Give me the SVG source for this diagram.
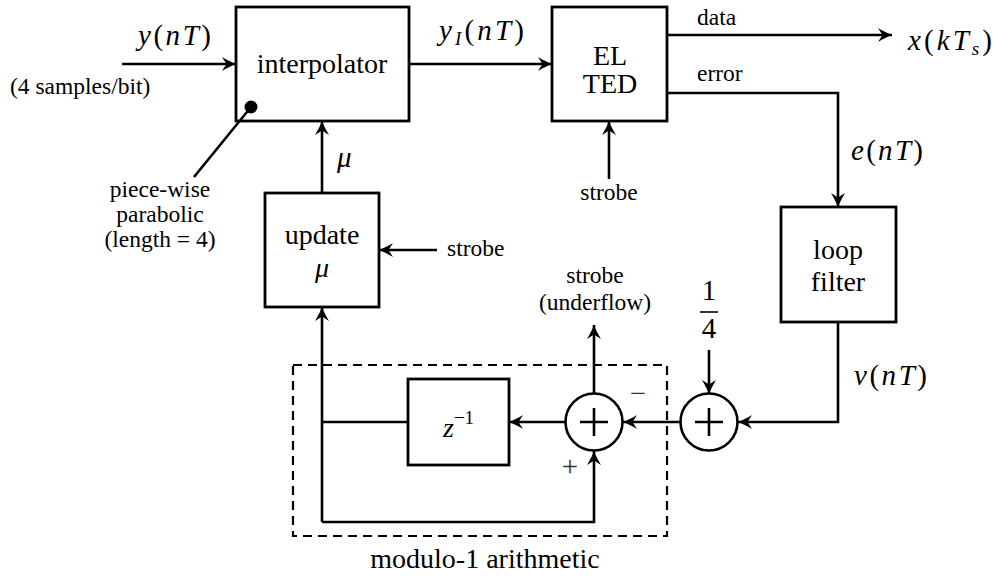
<svg xmlns="http://www.w3.org/2000/svg" width="993" height="580" viewBox="0 0 993 580">
<defs>
<marker id="arr" viewBox="-16 -8 18 16" refX="0" refY="0" markerWidth="18" markerHeight="16" markerUnits="userSpaceOnUse" orient="auto">
<path d="M0,0 C-4,-1.5 -9,-4 -14,-7 L-9.5,0 L-14,7 C-9,4 -4,1.5 0,0 Z" fill="#000"/>
</marker>
</defs>

<g id="modulo-region">
<rect x="293" y="365" width="374" height="171" fill="none" stroke="#000" stroke-width="2.2" stroke-dasharray="9 6"/>
<text x="485" y="568" font-size="28" text-anchor="middle" font-family="Liberation Serif">modulo-1 arithmetic</text>
</g>

<g id="interpolator">
<rect x="236" y="7" width="173" height="114" fill="#fff" stroke="#000" stroke-width="2.8"/>
<text x="322" y="73" font-size="28" text-anchor="middle" font-family="Liberation Serif">interpolator</text>
</g>

<g id="el-ted">
<rect x="552" y="7" width="115" height="114" fill="#fff" stroke="#000" stroke-width="2.8"/>
<text x="610" y="65" font-size="28" text-anchor="middle" font-family="Liberation Serif">EL</text>
<text x="610" y="93" font-size="28" text-anchor="middle" font-family="Liberation Serif">TED</text>
</g>

<g id="update-mu">
<rect x="265" y="193" width="114" height="114" fill="#fff" stroke="#000" stroke-width="2.8"/>
<text x="322" y="244" font-size="28" text-anchor="middle" font-family="Liberation Serif">update</text>
<text x="322" y="277" font-size="28" text-anchor="middle" font-style="italic" font-family="Liberation Serif">μ</text>
</g>

<g id="loop-filter">
<rect x="781" y="207" width="115" height="115" fill="#fff" stroke="#000" stroke-width="2.8"/>
<text x="838" y="259" font-size="28" text-anchor="middle" font-family="Liberation Serif">loop</text>
<text x="838" y="291" font-size="28" text-anchor="middle" font-family="Liberation Serif">filter</text>
</g>

<g id="delay">
<rect x="408" y="379" width="101" height="86" fill="#fff" stroke="#000" stroke-width="2.8"/>
<text x="443" y="437" font-size="28" font-family="Liberation Serif"><tspan font-style="italic">z</tspan><tspan font-size="19" dy="-13">−1</tspan></text>
</g>

<g id="sum-left">
<circle cx="594" cy="422" r="28.5" fill="#fff" stroke="#000" stroke-width="2.6"/>
<path d="M580,422 H608 M594,408 V436" fill="none" stroke="#000" stroke-width="2.6"/>
</g>

<g id="sum-right">
<circle cx="709" cy="422" r="28.5" fill="#fff" stroke="#000" stroke-width="2.6"/>
<path d="M695,422 H723 M709,408 V436" fill="none" stroke="#000" stroke-width="2.6"/>
</g>

<g id="connectors" fill="none" stroke="#000" stroke-width="2.6">
<path marker-end="url(#arr)" d="M122,64 H236"/>
<path marker-end="url(#arr)" d="M409,64 H552"/>
<path marker-end="url(#arr)" d="M667,35 H892"/>
<path marker-end="url(#arr)" d="M667,93 H838 V207"/>
<path marker-end="url(#arr)" d="M609,179 V121"/>
<path marker-end="url(#arr)" d="M838,322 V422 H738"/>
<path marker-end="url(#arr)" d="M709,350 V394"/>
<path marker-end="url(#arr)" d="M681,422 H623"/>
<path marker-end="url(#arr)" d="M566,422 H509"/>
<path d="M408,422 H322"/>
<path marker-end="url(#arr)" d="M594,394 V325"/>
<path marker-end="url(#arr)" d="M322,522 H594 V451"/>
<path marker-end="url(#arr)" d="M322,522 V307"/>
<path marker-end="url(#arr)" d="M322,193 V121"/>
<path marker-end="url(#arr)" d="M437,250 H379"/>
<path d="M194,177 L251,107"/>
<circle cx="251" cy="107" r="6.5" fill="#000" stroke="none"/>
</g>

<g id="labels">
<text x="138" y="45" font-size="29" textLength="73" lengthAdjust="spacing" font-family="Liberation Serif"><tspan font-style="italic">y</tspan>(<tspan font-style="italic">nT</tspan>)</text>
<text x="10" y="94" font-size="23.5" font-family="Liberation Serif">(4 samples/bit)</text>
<text x="160" y="197" font-size="23.5" text-anchor="middle" font-family="Liberation Serif">piece-wise</text>
<text x="160" y="222" font-size="23.5" text-anchor="middle" font-family="Liberation Serif">parabolic</text>
<text x="160" y="247" font-size="23.5" text-anchor="middle" font-family="Liberation Serif">(length = 4)</text>
<text x="337" y="167" font-size="29" font-style="italic" font-family="Liberation Serif">μ</text>
<text x="439" y="40" font-size="29" textLength="85" lengthAdjust="spacing" font-family="Liberation Serif"><tspan font-style="italic">y</tspan><tspan font-style="italic" font-size="19" dy="5">I</tspan><tspan dy="-5">(</tspan><tspan font-style="italic">nT</tspan>)</text>
<text x="697" y="25" font-size="23.5" font-family="Liberation Serif">data</text>
<text x="697" y="81" font-size="23.5" font-family="Liberation Serif">error</text>
<text x="908" y="50" font-size="29" textLength="84" lengthAdjust="spacing" font-family="Liberation Serif"><tspan font-style="italic">x</tspan>(<tspan font-style="italic">kT</tspan><tspan font-style="italic" font-size="19" dy="5">s</tspan><tspan dy="-5">)</tspan></text>
<text x="851" y="160" font-size="29" textLength="72" lengthAdjust="spacing" font-family="Liberation Serif"><tspan font-style="italic">e</tspan>(<tspan font-style="italic">nT</tspan>)</text>
<text x="609" y="200" font-size="23.5" text-anchor="middle" font-family="Liberation Serif">strobe</text>
<text x="447" y="256" font-size="23.5" font-family="Liberation Serif">strobe</text>
<text x="595" y="283" font-size="23.5" text-anchor="middle" font-family="Liberation Serif">strobe</text>
<text x="595" y="310" font-size="23.5" text-anchor="middle" font-family="Liberation Serif">(underflow)</text>
<text x="709" y="300" font-size="29" text-anchor="middle" font-family="Liberation Serif">1</text>
<path d="M700,312 H718" stroke="#000" stroke-width="1.6"/>
<text x="709" y="338" font-size="29" text-anchor="middle" font-family="Liberation Serif">4</text>
<text x="854" y="385" font-size="29" textLength="73" lengthAdjust="spacing" font-family="Liberation Serif"><tspan font-style="italic">v</tspan>(<tspan font-style="italic">nT</tspan>)</text>
<text x="638" y="403" font-size="29" text-anchor="middle" fill="#333" font-family="Liberation Serif">−</text>
<text x="570" y="476" font-size="29" text-anchor="middle" fill="#333" font-family="Liberation Serif">+</text>
</g>
</svg>
